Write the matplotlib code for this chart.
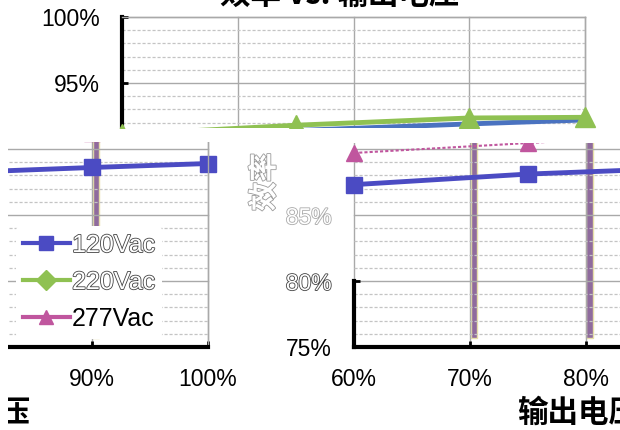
import numpy as np
import matplotlib
matplotlib.use('Agg')
import matplotlib.pyplot as plt
import matplotlib.patheffects as pe
from matplotlib.lines import Line2D
from matplotlib.patches import Rectangle

plt.rcParams['font.family'] = ['Liberation Sans', 'Noto Sans CJK SC', 'DejaVu Sans']

# values
load_pct = [60, 75, 90, 100]
eff_120 = [87.3, 88.1, 88.6, 88.9]
eff_220 = [87.8, 88.5, 89.05, 89.1]
eff_277 = [89.7, 90.45, 91.2, 91.3]
series_names = ['120Vac', '220Vac', '277Vac']
bar_pct = [70.35, 80.35, 90.35]
bar_bottom, bar_top = 75.7, 100
x_ticks = [60, 70, 80, 90, 100]
y_ticks = [75, 80, 85, 90, 95, 100]
chart_title = '效率 vs. 输出电压'
x_title = '输出电压'
y_title = '效率'

W, H = 620, 430
BASE = (122, 17, 585, 347)   # plot area of the un-broken chart, pixels
TOP_SHIFT = 3.3              # the top piece shows the lines drawn higher

BLUE, GREEN, PINK, PURPLE = '#4b4bc3', '#8fc152', '#c0569e', '#8f6b9d'
CJK = ['Noto Sans CJK SC', 'DejaVu Sans']

fig = plt.figure(figsize=(W / 100, H / 100), dpi=100)


def px_rect(x0, y0, x1, y1):
    return [x0 / W, 1 - y1 / H, (x1 - x0) / W, (y1 - y0) / H]


def hollow(txt, edge='#444444'):
    txt.set_color('white')
    txt.set_path_effects([pe.Stroke(linewidth=1.2, foreground=edge), pe.Normal()])


def clip_region(ax, region):
    x, y, w, h = px_rect(*region)
    box = Rectangle((x, y), w, h, transform=fig.transFigure)
    for a in ax.findobj():
        if a is ax:
            continue
        a.set_clip_path(box)
        a.set_clip_on(True)


def chart(dx, part):
    l, t, r, b = BASE
    ax = fig.add_axes(px_rect(l + dx, t, r + dx, b))
    ax.set_xlim(60, 100)
    ax.set_ylim(75, 100)
    ax.set_xticks(x_ticks, [f'{v}%' for v in x_ticks])
    ax.set_yticks(y_ticks, [f'{v}%' for v in y_ticks])
    ax.set_yticks(np.arange(75, 101), minor=True)
    ax.set_axisbelow('line')
    ax.grid(which='major', color='#a9a9a9', lw=1)
    ax.grid(which='minor', axis='y', color='#c4c4c4', lw=0.9, ls=(0, (2.5, 1.5)))
    ax.tick_params(which='minor', length=0)
    ax.tick_params(which='major', direction='in', length=4, width=2,
                   labelsize=16.5, color='black')
    ax.tick_params(axis='x', pad=15)
    ax.tick_params(axis='y', pad=16)
    for s in ('top', 'right'):
        ax.spines[s].set_color('#a9a9a9')
        ax.spines[s].set_linewidth(1)
    for s in ('left', 'bottom'):
        ax.spines[s].set_color('black')
        ax.spines[s].set_linewidth(3)

    ax.text(0.471, 1.067, chart_title, transform=ax.transAxes, ha='center', va='center',
            fontsize=22, fontweight='bold', family=CJK)
    ax.text(0.484, -0.2, x_title, transform=ax.transAxes, ha='center', va='center',
            fontsize=22, fontweight='bold', family=CJK)
    yl = ax.text(-0.194, 0.5, y_title, transform=ax.transAxes, ha='center', va='center',
                 rotation=90, fontsize=21, fontweight='bold', family=CJK)
    hollow(yl, '#9a9a9a')

    if part == 'top':
        tw = ax.twinx()
        tw.set_ylim(75 - TOP_SHIFT, 100 - TOP_SHIFT)
        tw.axis('off')
        tw.plot(load_pct, eff_120, color='#4a72c0', lw=3.5)
        tw.plot(load_pct, eff_220, color=GREEN, lw=3.5, marker='^', ms=15)
        return ax, tw

    ax.bar(bar_pct, bar_top - bar_bottom, bottom=bar_bottom, width=0.55,
           color=PURPLE, edgecolor='#e6dfa8', lw=1)
    ax.plot(load_pct, eff_120, color=BLUE, lw=3.5, marker='s', ms=11.5)
    ax.plot(load_pct, eff_277, color=PINK, lw=1.5, ls=(0, (1.5, 1)), marker='^', ms=12)

    handles = [Line2D([], [], color=c, lw=3, marker=m, ms=10)
               for c, m in zip([BLUE, GREEN, PINK], ['s', 'D', '^'])]
    leg = ax.legend(handles, series_names, loc='upper left', bbox_to_anchor=(0.585, 0.368),
                    frameon=True, facecolor='white', edgecolor='none', framealpha=1,
                    fontsize=18, handlelength=1.85, handletextpad=0.1, labelspacing=0.52,
                    borderpad=0.3, borderaxespad=0)
    hollow(leg.get_texts()[0])
    hollow(leg.get_texts()[1])
    return ax, None


# top piece: title, upper part of the plot
ax_t, tw_t = chart(0, 'top')
clip_region(ax_t, (0, 0, 620, 128))
clip_region(tw_t, (0, 0, 620, 128))

# lower left piece: the right end of the chart, moved left
ax_l, _ = chart(-377, 'left')
clip_region(ax_l, (8, 142, 245, 430))

# lower right piece: the left part of the chart, moved right
ax_r, _ = chart(232, 'right')
ax_r.spines['left'].set_bounds(75, 80)
for i, tk in enumerate(ax_r.yaxis.get_major_ticks()):
    if y_ticks[i] > 80:
        tk.tick1line.set_visible(False)
labels = ax_r.get_yticklabels()
hollow(labels[1])
hollow(labels[2], '#aaaaaa')
labels[3].set_visible(False)
clip_region(ax_r, (245, 143, 620, 430))

fig.savefig('out.png', dpi=100, facecolor='white')
